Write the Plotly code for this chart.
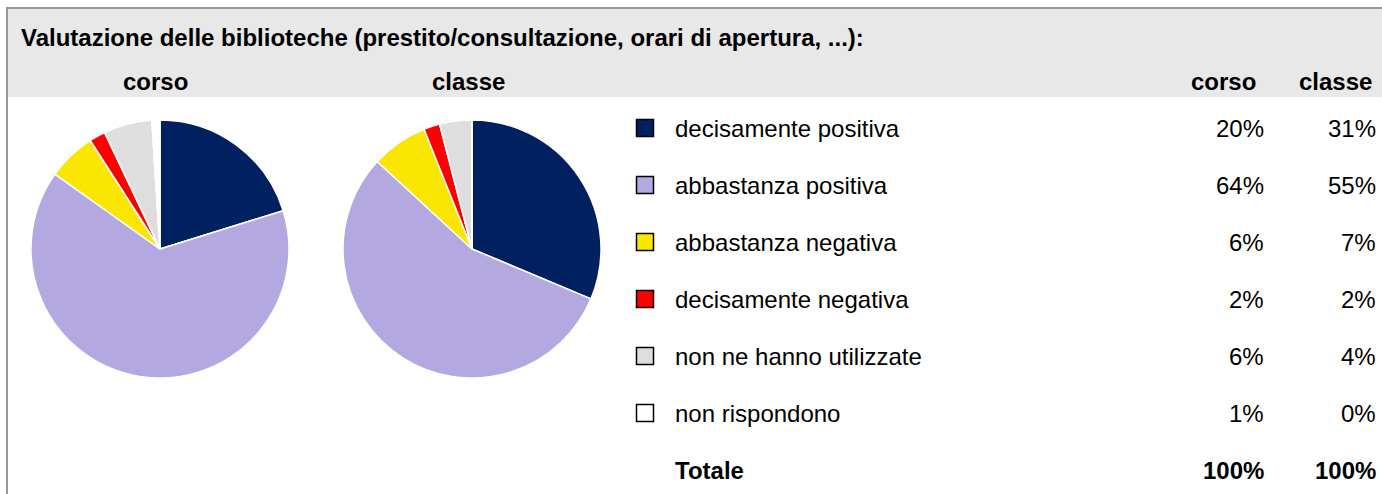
import plotly.graph_objects as go

title = "Valutazione delle biblioteche (prestito/consultazione, orari di apertura, ...):"
categories = ["decisamente positiva", "abbastanza positiva", "abbastanza negativa",
              "decisamente negativa", "non ne hanno utilizzate", "non rispondono"]
corso = [20, 64, 6, 2, 6, 1]
classe = [31, 55, 7, 2, 4, 0]
corso_labels = ["20%", "64%", "6%", "2%", "6%", "1%"]
classe_labels = ["31%", "55%", "7%", "2%", "4%", "0%"]
total_label = "Totale"
total_corso = "100%"
total_classe = "100%"
series_names = ["corso", "classe"]
colors = ["#00205F", "#B3A9E0", "#FAE600", "#FF0000", "#DEDEDE", "#FFFFFF"]

W, H = 1382, 494
FONT = "Liberation Sans, Arial, sans-serif"

fig = go.Figure()

def px_dom_x(a, b):
    return [a / W, b / W]

def px_dom_y(top, bottom):
    return [1 - bottom / H, 1 - top / H]

# pies
pie_cx = [160, 472]
pie_r = 129
pie_cy = 249
for vals, cx, name in zip([corso, classe], pie_cx, series_names):
    fig.add_trace(go.Pie(
        values=vals, labels=categories, name=name,
        sort=False, direction="clockwise", rotation=0,
        marker=dict(colors=colors, line=dict(color="white", width=1.5)),
        textinfo="none", hoverinfo="label+percent", showlegend=False,
        domain=dict(x=px_dom_x(cx - pie_r, cx + pie_r), y=px_dom_y(pie_cy - pie_r, pie_cy + pie_r)),
    ))

# legend squares
row0, dy = 128, 57
rows_y = [row0 + i * dy for i in range(len(categories))]
fig.add_trace(go.Scatter(
    x=[645] * len(categories), y=rows_y, mode="markers",
    marker=dict(symbol="square", size=17, color=colors, line=dict(color="black", width=1.5)),
    showlegend=False, hoverinfo="skip", xaxis="x", yaxis="y",
))

shapes = [
    dict(type="rect", xref="x", yref="y", x0=7, x1=W + 5, y0=8, y1=97,
         fillcolor="#E8E8E8", line=dict(width=0), layer="below"),
    dict(type="line", xref="x", yref="y", x0=6, x1=W + 5, y0=8, y1=8,
         line=dict(color="#999999", width=2)),
    dict(type="line", xref="x", yref="y", x0=7, x1=7, y0=8, y1=H + 5,
         line=dict(color="#999999", width=2)),
]

ann = []
def txt(x, y, s, anchor="left", bold=False, size=24):
    ann.append(dict(x=x, y=y, xref="x", yref="y", text=f"<b>{s}</b>" if bold else s,
                    showarrow=False, xanchor=anchor, yanchor="middle",
                    font=dict(family=FONT, size=size, color="black")))

txt(19, 37, title, bold=True, size=24)
txt(pie_cx[0] - 5, 81, series_names[0], anchor="center", bold=True)
txt(pie_cx[1] - 4, 81, series_names[1], anchor="center", bold=True)
txt(1258, 81, series_names[0], anchor="right", bold=True)
txt(1374, 81, series_names[1], anchor="right", bold=True)

for i, c in enumerate(categories):
    y = rows_y[i]
    txt(673, y, c)
    txt(1266, y, corso_labels[i], anchor="right")
    txt(1378, y, classe_labels[i], anchor="right")

ty = row0 + len(categories) * dy
txt(673, ty, total_label, bold=True)
txt(1266, ty, total_corso, anchor="right", bold=True)
txt(1378, ty, total_classe, anchor="right", bold=True)

fig.update_layout(
    width=W, height=H, margin=dict(l=0, r=0, t=0, b=0),
    paper_bgcolor="white", plot_bgcolor="rgba(0,0,0,0)",
    xaxis=dict(range=[0, W], visible=False, domain=[0, 1], fixedrange=True),
    yaxis=dict(range=[H, 0], visible=False, domain=[0, 1], fixedrange=True),
    shapes=shapes, annotations=ann, showlegend=False,
)

fig.write_html("out.html", config={"displayModeBar": False},
               post_script="document.body.style.margin='0';document.body.style.overflow='hidden';")
